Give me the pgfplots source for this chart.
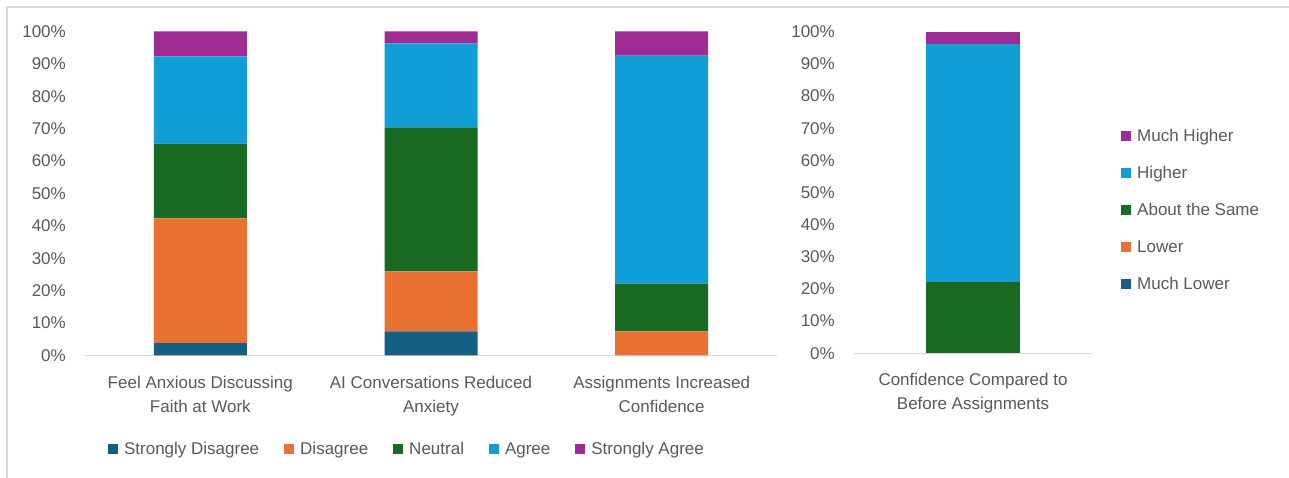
\documentclass[border=0pt]{standalone}
\usepackage{fontspec}
\setmainfont{Liberation Sans}
\usepackage{pgfplots}
\pgfplotsset{compat=1.18}
\definecolor{c1}{HTML}{156082}
\definecolor{c2}{HTML}{E97132}
\definecolor{c3}{HTML}{196B24}
\definecolor{c4}{HTML}{0F9ED5}
\definecolor{c5}{HTML}{A02B93}
\definecolor{txt}{HTML}{595959}
\definecolor{axl}{HTML}{D9D9D9}
\pgfplotsset{
  stk/.style={
    scale only axis, ybar stacked, ymin=0, ymax=100, enlargelimits=false,
    axis x line*=bottom, axis y line*=left,
    x axis line style={axl, line width=1.2pt},
    y axis line style={draw=none},
    major tick length=0pt,
    ytick={0,10,...,100},
    yticklabel={\pgfmathprintnumber{\tick}\%},
    /pgf/number format/assume math mode=true,
    yticklabel style={text=txt, anchor=east, inner sep=0pt, xshift=-19pt, font=\fontsize{17}{20}\selectfont},
    xtick=data,
    xticklabel style={text=txt, anchor=north, inner sep=0pt, yshift=-20pt, align=center, font=\fontsize{17}{24}\selectfont},
    legend image code/.code={\fill[##1] (0pt,-5pt) rectangle (10pt,5pt); \path (13pt,0pt);},
    legend style={draw=none, fill=none, text=txt, font=\fontsize{17}{20}\selectfont, inner sep=0pt,
      nodes={inner sep=3pt}},
  }
}
\begin{document}
\begin{tikzpicture}[x=1pt,y=1pt]
\useasboundingbox (0,0) rectangle (1289,478);
\draw[axl, line width=1.5pt] (7,0) -- (7,471) -- (1289,471);
% left panel
\begin{axis}[stk, at={(85pt,122.5pt)}, anchor=south west,
  width=692pt, height=324pt, xmin=-0.5, xmax=2.5, bar width=93pt,
  xticklabels={{Feel Anxious Discussing\\Faith at Work},{AI Conversations Reduced\\Anxiety},{Assignments Increased\\Confidence}},
  legend columns=5,
  legend style={at={(0.466,-0.289)}, anchor=center,
    /tikz/every even column/.append style={column sep=22pt}},
]
\addplot[fill=c1, draw=none] coordinates {(0,3.85) (1,7.41) (2,0)};
\addplot[fill=c2, draw=none] coordinates {(0,38.46) (1,18.52) (2,7.41)};
\addplot[fill=c3, draw=none] coordinates {(0,23.08) (1,44.44) (2,14.81)};
\addplot[fill=c4, draw=none] coordinates {(0,26.92) (1,25.93) (2,70.37)};
\addplot[fill=c5, draw=none] coordinates {(0,7.69) (1,3.70) (2,7.41)};
\legend{Strongly Disagree, Disagree, Neutral, Agree, Strongly Agree}
\end{axis}
% right panel
\begin{axis}[stk, at={(854pt,124.7pt)}, anchor=south west,
  width=238pt, height=321.6pt, xmin=-0.5, xmax=0.5, bar width=94pt,
  xticklabels={{Confidence Compared to\\Before Assignments}},
  reverse legend,
  legend style={at={(1.1218,0.4456)}, anchor=west, legend cell align=left,
    row sep=17.5pt},
]
\addplot[fill=c1, draw=none] coordinates {(0,0)};
\addplot[fill=c2, draw=none] coordinates {(0,0)};
\addplot[fill=c3, draw=none] coordinates {(0,22.22)};
\addplot[fill=c4, draw=none] coordinates {(0,74.07)};
\addplot[fill=c5, draw=none] coordinates {(0,3.70)};
\legend{Much Lower, Lower, About the Same, Higher, Much Higher}
\end{axis}
\end{tikzpicture}
\end{document}
